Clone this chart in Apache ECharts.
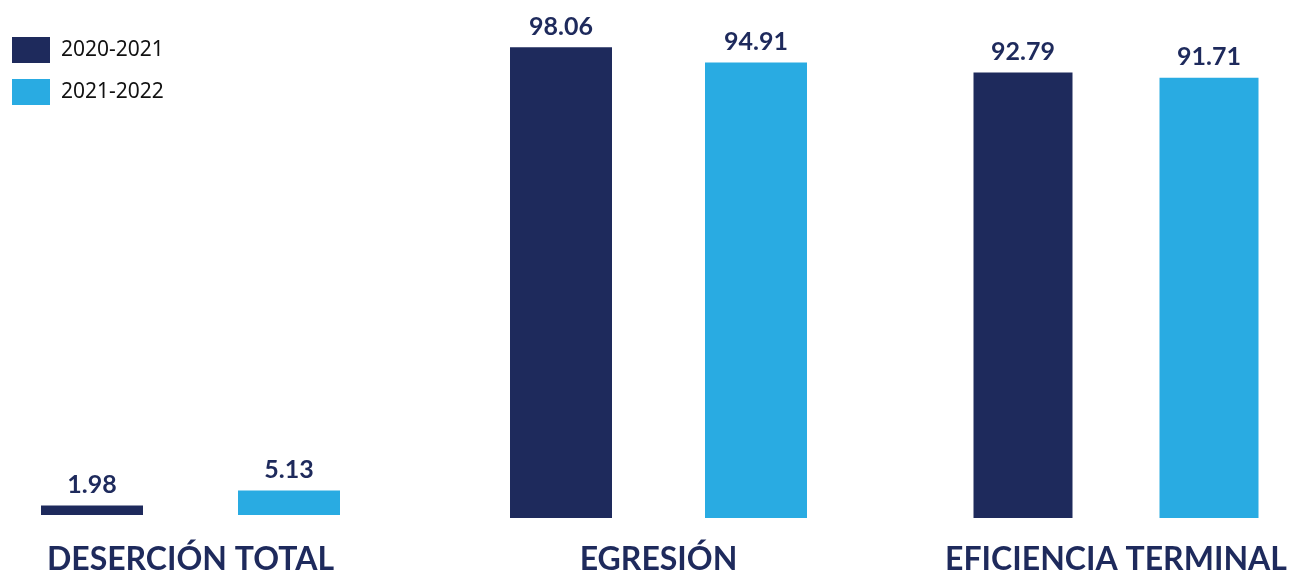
<!DOCTYPE html>
<html><head><meta charset="utf-8">
<script src="https://cdn.jsdelivr.net/npm/echarts@6/dist/echarts.min.js"></script>
<style>html,body{margin:0;padding:0;background:#fff}#c{width:1302px;height:577px}</style>
</head><body><div id="c"></div>
<script>
const groups = ['DESERCIÓN TOTAL', 'EGRESIÓN', 'EFICIENCIA TERMINAL'];
const periods = ['2020-2021', '2021-2022'];
const values2020 = [1.98, 98.06, 92.79];
const values2021 = [5.13, 94.91, 91.71];
const colors = ['#1e2a5c', '#29abe2'];
const FONT = 'Lato';

const gridBoxes = [
  {left: 92, width: 197, top: 35, height: 480},
  {left: 561, width: 195, top: 38, height: 480},
  {left: 1023, width: 186, top: 38, height: 480}
];
const barWidths = [102, 102, 99];
const nameGaps = [29, 26, 26];

const grids = [], xAxes = [], yAxes = [], series = [];
groups.forEach((g, i) => {
  grids.push(Object.assign({containLabel: false, outerBoundsMode: 'none'}, gridBoxes[i]));
  xAxes.push({
    type: 'category', gridIndex: i, data: periods, boundaryGap: false,
    axisLine: {show: false}, axisTick: {show: false}, axisLabel: {show: false}, splitLine: {show: false},
    name: g, nameLocation: 'middle', nameGap: nameGaps[i],
    nameTextStyle: {color: colors[0], fontFamily: FONT, fontWeight: 'bold', fontSize: 32}
  });
  yAxes.push({type: 'value', gridIndex: i, min: 0, max: 100, show: false, splitLine: {show: false}});
  [values2020, values2021].forEach((vals, k) => {
    const data = k === 0 ? [vals[i], '-'] : ['-', vals[i]];
    series.push({
      type: 'bar', name: periods[k], xAxisIndex: i, yAxisIndex: i,
      data: data, barWidth: barWidths[i], barGap: '-100%', clip: false,
      itemStyle: {color: colors[k]},
      label: {show: true, position: 'top', distance: 8, color: colors[0],
        fontFamily: FONT, fontWeight: 'bold', fontSize: 25,
        formatter: p => p.value.toFixed(2)},
      emphasis: {disabled: true}
    });
  });
});

const chart = echarts.init(document.getElementById('c'), null, {renderer: 'canvas'});
chart.setOption({
  animation: false,
  backgroundColor: '#ffffff',
  legend: {
    data: periods, orient: 'vertical', left: 12, top: 37, padding: 0,
    itemWidth: 38, itemHeight: 26, itemGap: 16,
    icon: 'rect',
    textStyle: {color: '#111', fontFamily: 'Noto Sans', fontSize: 21, padding: [0, 0, 0, 6]}
  },
  grid: grids, xAxis: xAxes, yAxis: yAxes, series: series
});
</script></body></html>
